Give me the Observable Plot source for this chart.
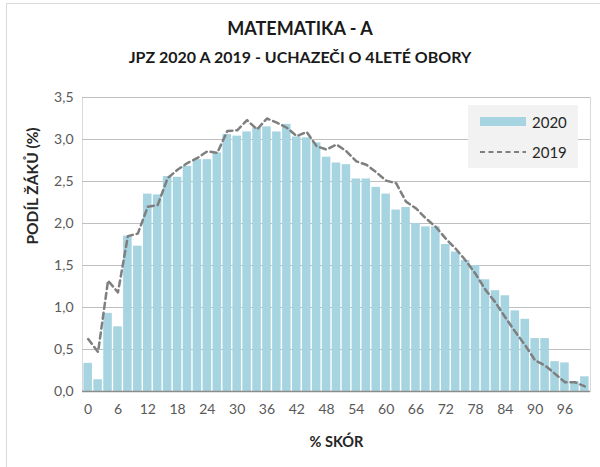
<!DOCTYPE html>
<html>
<head>
<meta charset="utf-8">
<script src="https://cdn.jsdelivr.net/npm/d3@7"></script>
<script src="https://cdn.jsdelivr.net/npm/@observablehq/plot@0.6"></script>
<style>
  html, body { margin: 0; padding: 0; background: #fff; }
  #wrap { position: relative; width: 600px; height: 467px; overflow: hidden; font-family: Lato, "Open Sans", sans-serif; }
  #frame { position: absolute; left: 6px; top: 3px; width: 600px; height: 470px; border-left: 1px solid #d9d9d9; border-top: 1px solid #d9d9d9; box-sizing: border-box; }
  #title { position: absolute; left: 0; width: 600px; top: 17px; text-align: center; font-weight: bold; font-size: 18px; color: #1a1a1a; }
  #subtitle { position: absolute; left: 0; width: 600px; top: 47px; text-align: center; font-weight: bold; font-size: 16px; color: #1a1a1a; }
  #chart { position: absolute; left: 0; top: 75px; }
  #legend { position: absolute; left: 468px; top: 105px; width: 110px; height: 63px; background: #f2f2f2; font-size: 15px; color: #262626; }
  .item { position: absolute; left: 12px; display: flex; align-items: center; }
  .item span { margin-left: 6px; }
</style>
</head>
<body>
<div id="wrap">
  <div id="frame"></div>
  <div id="title">MATEMATIKA - A</div>
  <div id="subtitle">JPZ 2020 A 2019 - UCHAZEČI O 4LETÉ OBORY</div>
  <div id="chart"></div>
  <div id="legend">
    <div class="item" style="top:8px"><svg width="46" height="14"><rect x="0" y="2" width="46" height="9" fill="#a6d4e1"></rect></svg><span>2020</span></div>
    <div class="item" style="top:38px"><svg width="46" height="14"><line x1="0" x2="46" y1="7" y2="7" stroke="#7f7f7f" stroke-width="2.2" stroke-dasharray="5,3.5"></line></svg><span>2019</span></div>
  </div>
</div>
<script>
const scores = d3.range(0, 101, 2);
const values2020 = [0.335, 0.14, 0.93, 0.77, 1.85, 1.73, 2.35, 2.34, 2.56, 2.55,
  2.68, 2.76, 2.76, 2.84, 3.06, 3.04, 3.09, 3.14, 3.15, 3.09,
  3.18, 3.03, 3.02, 2.96, 2.79, 2.72, 2.70, 2.53, 2.53, 2.43,
  2.35, 2.16, 2.19, 2.00, 1.96, 1.96, 1.75, 1.66, 1.56, 1.50,
  1.33, 1.20, 1.14, 0.96, 0.86, 0.63, 0.63, 0.355, 0.34, 0.12, 0.175];
const values2019 = [0.625, 0.47, 1.32, 1.18, 1.85, 1.88, 2.20, 2.22, 2.54, 2.64,
  2.72, 2.78, 2.86, 2.84, 3.10, 3.11, 3.23, 3.12, 3.25, 3.20,
  3.14, 3.04, 3.09, 2.92, 2.88, 2.94, 2.86, 2.74, 2.70, 2.61,
  2.51, 2.48, 2.26, 2.18, 2.06, 1.96, 1.82, 1.70, 1.56, 1.40,
  1.21, 1.06, 0.88, 0.71, 0.55, 0.37, 0.31, 0.21, 0.11, 0.11, 0.06];
const xTicks = d3.range(0, 97, 6);
const yTicks = d3.range(0, 3.51, 0.5);

const data20 = scores.map((s, i) => ({score: s, v: values2020[i]}));
const data19 = scores.map((s, i) => ({score: s, v: values2019[i]}));
const fmt = d => d3.format(".1f")(d).replace(".", ",");

const plot = Plot.plot({
  width: 600,
  height: 385,
  marginLeft: 82,
  marginRight: 10,
  marginTop: 22,
  marginBottom: 69,
  style: {fontFamily: "Lato, 'Open Sans', sans-serif", fontSize: "14px", color: "#595959", background: "transparent"},
  x: {type: "band", domain: scores, padding: 0.14, align: 0.5, label: null},
  y: {domain: [0, 3.5], label: null},
  marks: [
    Plot.frame({stroke: "#d9d9d9"}),
    Plot.gridY(yTicks, {stroke: "#bfbfbf", strokeOpacity: 1}),
    Plot.barY(data20, {x: "score", y: "v", fill: "#a6d4e1"}),
    Plot.ruleY([0], {stroke: "#8c8c8c", strokeWidth: 1.5}),
    Plot.line(data19, {x: "score", y: "v", stroke: "#7f7f7f", strokeWidth: 2.5, strokeDasharray: "6,4"}),
    Plot.axisY(yTicks, {tickSize: 0, tickPadding: 9, tickFormat: fmt, fontSize: 14, fill: "#595959", label: null}),
    Plot.axisX(xTicks, {tickSize: 0, tickPadding: 13, fontSize: 14, fill: "#595959", label: null}),
    Plot.text(["% SKÓR"], {frameAnchor: "bottom", dy: 55, fontWeight: "bold", fontSize: 14.5, fill: "#262626"}),
    Plot.text(["PODÍL ŽÁKŮ (%)"], {frameAnchor: "left", dx: -49, rotate: -90, fontWeight: "bold", fontSize: 15.5, fill: "#262626"})
  ]
});
document.getElementById("chart").appendChild(plot);
</script>
</body>
</html>
